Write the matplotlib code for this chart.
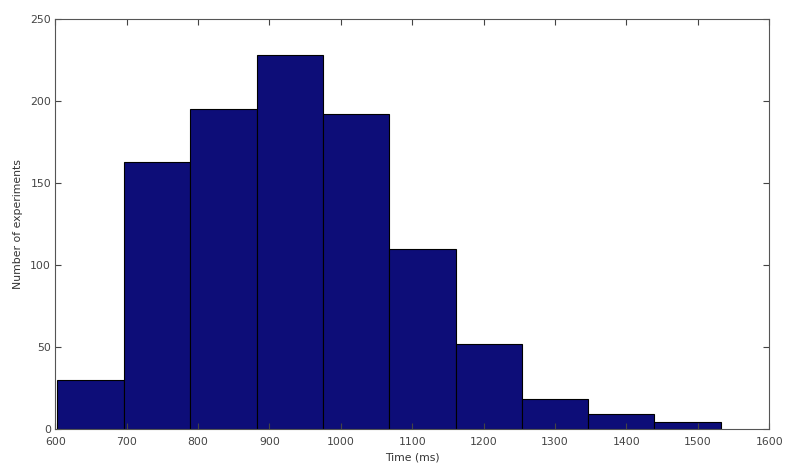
import matplotlib
matplotlib.use("Agg")
import matplotlib.pyplot as plt
import numpy as np

bin_edges = [603, 696, 789, 882, 975, 1068, 1161, 1254, 1346, 1439, 1532]
counts = [30, 163, 195, 228, 192, 110, 52, 18, 9, 4]
x_ticks = [600, 700, 800, 900, 1000, 1100, 1200, 1300, 1400, 1500, 1600]
y_ticks = [0, 50, 100, 150, 200, 250]

plt.rcParams['font.family'] = ['DejaVu Sans']

fig = plt.figure(figsize=(7.99, 4.71), dpi=100)
ax = fig.add_axes([0.0692, 0.0892, 0.8936, 0.8705])

edges = np.array(bin_edges)
ax.bar(edges[:-1], counts, width=np.diff(edges), align='edge',
       color='#0d0d78', edgecolor='black', linewidth=0.8)

ax.set_xlim(600, 1600)
ax.set_ylim(0, 250)
ax.set_xticks(x_ticks)
ax.set_yticks(y_ticks)
ax.tick_params(direction='in', length=4, width=0.8, top=True, right=True,
               labelsize=7.8, colors='#444444', labelcolor='#444444')
ax.tick_params(axis='x', pad=6)
ax.tick_params(axis='y', pad=3)
for s in ax.spines.values():
    s.set_color('#555555')
    s.set_linewidth(0.8)

ax.set_xlabel('Time (ms)', fontsize=7.8, color='#333333', labelpad=4)
ax.set_ylabel('Number of experiments', fontsize=7.8, color='#333333', labelpad=5)

fig.savefig('out.png', dpi=100)
